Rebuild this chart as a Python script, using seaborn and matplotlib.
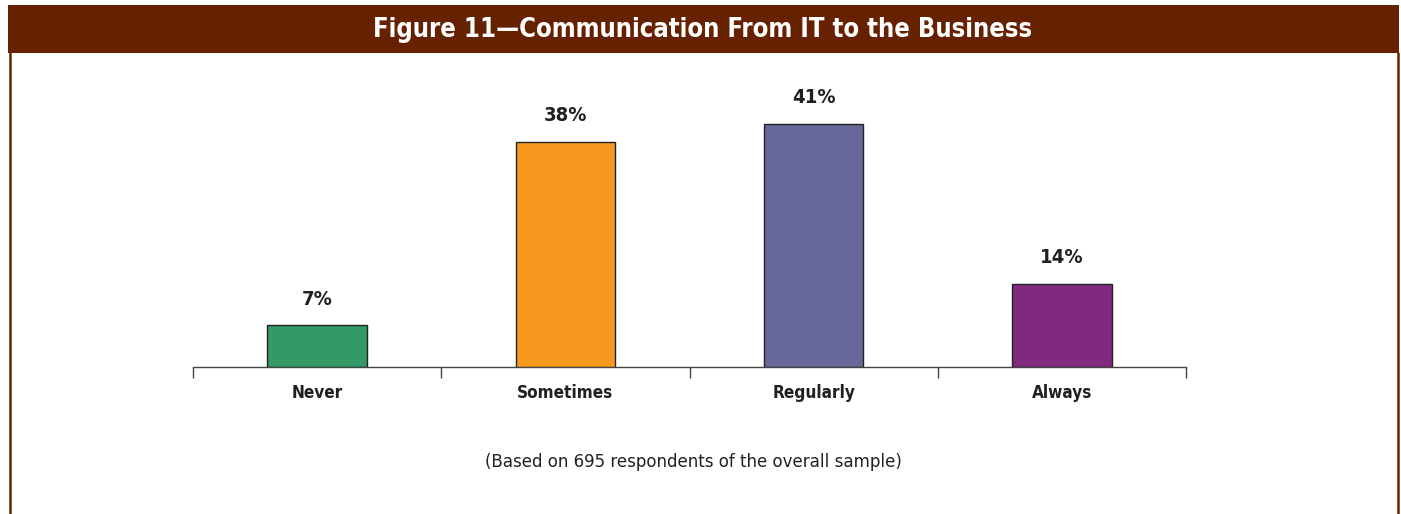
import matplotlib
matplotlib.use("Agg")
import matplotlib.pyplot as plt
from matplotlib.patches import Rectangle
from matplotlib.lines import Line2D
import seaborn as sns
import pandas as pd

categories = ["Never", "Sometimes", "Regularly", "Always"]
percent = [7, 38, 41, 14]
bar_colors = ["#339966", "#F7991E", "#666699", "#7F2A7F"]
title = "Figure 11\u2014Communication From IT to the Business"
footnote = "(Based on 695 respondents of the overall sample)"

sns.set_theme(style="white")
plt.rcParams["font.family"] = ["DejaVu Sans"]
plt.rcParams["font.stretch"] = "condensed"

df = pd.DataFrame({"category": categories, "percent": percent})

W, H = 1401, 514
fig = plt.figure(figsize=(W / 100, H / 100), dpi=100)
fig.patch.set_facecolor("white")

# header band and frame
brown = "#662200"
fig.add_artist(Rectangle((8 / W, 1 - 53 / H), (1399 - 8) / W, 48 / H,
                         transform=fig.transFigure, facecolor=brown,
                         edgecolor="none", zorder=0))
fig.add_artist(Line2D([9.5 / W, 9.5 / W], [0, 1 - 53 / H], transform=fig.transFigure,
                      color=brown, linewidth=1.8))
fig.add_artist(Line2D([1397.5 / W, 1397.5 / W], [0, 1 - 53 / H], transform=fig.transFigure,
                      color=brown, linewidth=1.8))
fig.text(703 / W, 1 - 30 / H, title, ha="center", va="center", color="white",
         fontsize=18.4, fontweight="bold")

ax_left, ax_right, ax_bottom = 193, 1186, 367
ymax = 45
px_per_unit = 5.93
ax_top = ax_bottom - ymax * px_per_unit
ax = fig.add_axes([ax_left / W, 1 - ax_bottom / H, (ax_right - ax_left) / W,
                   (ax_bottom - ax_top) / H])

sns.barplot(data=df, x="category", y="percent", hue="category", palette=bar_colors,
            order=categories, hue_order=categories, width=0.4, edgecolor="#222222",
            linewidth=1.0, saturation=1, legend=False, ax=ax, zorder=3)

ax.set_xlim(-0.5, len(categories) - 0.5)
ax.set_ylim(0, ymax)
for side in ["top", "right", "left"]:
    ax.spines[side].set_visible(False)
ax.spines["bottom"].set_color("#444444")
ax.spines["bottom"].set_linewidth(1.0)
ax.set_yticks([])
ax.set_xlabel("")
ax.set_ylabel("")
ax.set_xticks([i - 0.5 for i in range(len(categories) + 1)], minor=True)
ax.tick_params(axis="x", which="minor", bottom=True, length=8, width=1.0, color="#444444")
ax.tick_params(axis="x", which="major", bottom=False, pad=6)
ax.set_xticks(range(len(categories)))
ax.set_xticklabels(categories, fontsize=12.3, fontweight="bold", color="#231f20")

for container in ax.containers:
    ax.bar_label(container, labels=[f"{v:.0f}%" for v in container.datavalues],
                 padding=12, fontsize=14.5, fontweight="bold", color="#231f20")

fig.text(693 / W, 1 - 462 / H, footnote, ha="center", va="center", fontsize=13.3,
         color="#231f20")

fig.savefig("out.png", dpi=100, facecolor="white")
